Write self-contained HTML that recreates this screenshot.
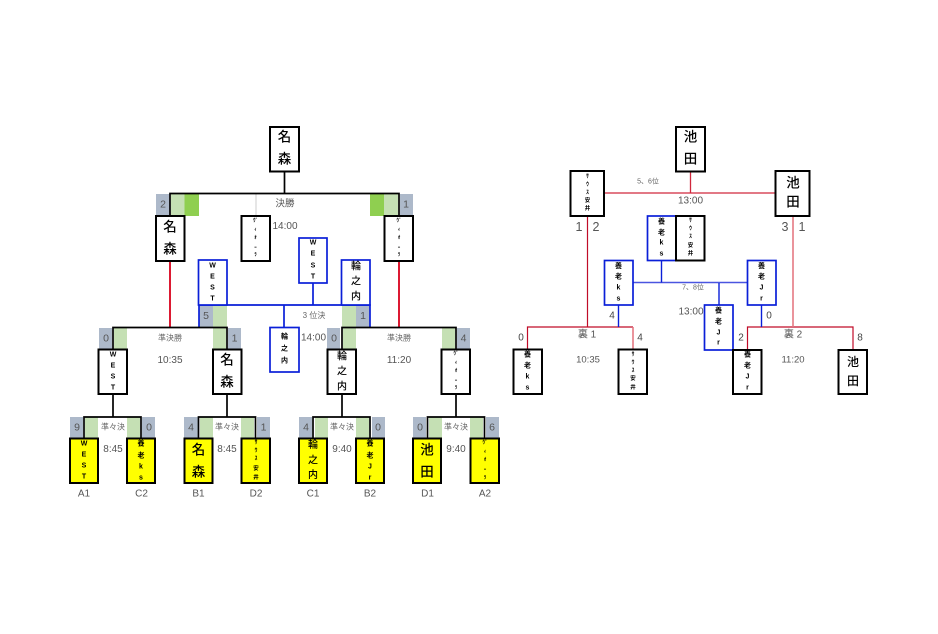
<!DOCTYPE html>
<html lang="ja"><head><meta charset="utf-8"><style>
html,body{margin:0;padding:0;background:#fff}
svg{display:block}
text{font-family:"Liberation Sans","Noto Sans CJK JP",sans-serif;text-anchor:middle;dominant-baseline:central;fill:#000}
.b{font-size:13.5px;font-weight:500}.m{font-size:10px;font-weight:500}.w{font-size:7px;font-weight:700}.k{font-size:5px;font-weight:700}.y{font-size:5.5px;font-weight:700}.s{font-size:7px;font-weight:700}
.n{font-size:10.5px;fill:#555}.t{font-size:10px;fill:#555}.l{font-size:8px;fill:#666}.o{font-size:10px;fill:#444}
.box{fill:#fff;stroke:#000;stroke-width:2}.yb{fill:#ff0;stroke:#000;stroke-width:2}.bb{fill:#fff;stroke:#0a1fd8;stroke-width:1.700}
.g{fill:#adb9ca}.lg{fill:#c5e0b4}.dg{fill:#8fcf50}
</style></head><body>
<svg width="938" height="634" viewBox="0 0 938 634" xmlns="http://www.w3.org/2000/svg">
<rect width="938" height="634" fill="#fff"/>
<!-- score blocks -->
<rect class="g" x="156" y="194" width="14" height="22"/><rect class="lg" x="171" y="194" width="13.500" height="22"/><rect class="dg" x="184.500" y="194" width="14.500" height="22"/>
<rect class="dg" x="370" y="194" width="14" height="22"/><rect class="lg" x="384" y="194" width="14" height="22"/><rect class="g" x="400" y="194" width="13" height="22"/>
<rect class="g" x="199" y="305" width="14" height="22"/><rect class="lg" x="213" y="305" width="14" height="22"/>
<rect class="lg" x="342" y="305" width="14" height="22"/><rect class="g" x="356" y="305" width="14" height="22"/>
<rect class="g" x="99" y="328" width="13" height="21"/><rect class="lg" x="114" y="328" width="13" height="21"/><rect class="lg" x="213" y="328" width="13" height="21"/><rect class="g" x="228" y="328" width="13" height="21"/>
<rect class="g" x="327" y="328" width="13" height="21"/><rect class="lg" x="343" y="328" width="13" height="21"/><rect class="lg" x="442" y="328" width="13" height="21"/><rect class="g" x="457" y="328" width="13" height="21"/>
<rect class="g" x="70" y="417" width="13" height="21"/><rect class="lg" x="85" y="417" width="13" height="21"/><rect class="lg" x="127" y="417" width="13" height="21"/><rect class="g" x="142" y="417" width="13" height="21"/>
<rect class="g" x="184" y="417" width="14" height="21"/><rect class="lg" x="200" y="417" width="13" height="21"/><rect class="lg" x="241" y="417" width="13" height="21"/><rect class="g" x="257" y="417" width="13" height="21"/>
<rect class="g" x="299" y="417" width="13" height="21"/><rect class="lg" x="315" y="417" width="13" height="21"/><rect class="lg" x="356" y="417" width="13" height="21"/><rect class="g" x="372" y="417" width="13" height="21"/>
<rect class="g" x="413" y="417" width="13" height="21"/><rect class="lg" x="429" y="417" width="13" height="21"/><rect class="lg" x="470" y="417" width="13" height="21"/><rect class="g" x="486" y="417" width="13" height="21"/>
<!-- left lines -->
<path d="M256 194V216" stroke="#ccc" stroke-width="1" fill="none"/>
<path d="M284.500 171V193.500M170 216V193.500H399V216" stroke="#000" stroke-width="1.700" fill="none"/>
<path d="M170 261V327M399 261V327" stroke="#d8001c" stroke-width="1.800" fill="none"/>
<path d="M199 327V305H370V327M313 283V305M284 305V327" stroke="#0a1fd8" stroke-width="1.700" fill="none"/>
<path d="M113 349V327.500H227V349M342 349V327.500H456V349M113 394V417M227 394V417M342 394V417M456 394V417M84 438V417H141V438M198.500 438V417H255.500V438M313 438V417H370V438M427.500 438V417H484.500V438" stroke="#000" stroke-width="1.700" fill="none"/>
<!-- right lines -->
<path d="M690.500 171V193M605 193H775" stroke="#d0283c" stroke-width="1.300" fill="none"/>
<path d="M587.500 216V327M527.500 349V327H633M747.500 350V327H853V350" stroke="#c00c28" stroke-width="1.200" fill="none"/>
<path d="M793 216V327M633 327V349" stroke="#e4707c" stroke-width="1.500" fill="none"/>
<path d="M633 282.500H747.500" stroke="#4a55e0" stroke-width="1.500" fill="none"/>
<path d="M661.500 260V282.500M719 283V305M618.500 305V327M761.500 305V327" stroke="#0a1fd8" stroke-width="1.400" fill="none"/>
<!-- boxes left -->
<rect class="box" x="270" y="127" width="29" height="44.500"/><text class="b" x="284.500" y="137">名</text><text class="b" x="284.500" y="159">森</text>
<rect class="box" x="156" y="216" width="28.500" height="45"/><text class="b" x="170" y="227">名</text><text class="b" x="170" y="249">森</text>
<rect class="box" x="241.500" y="216" width="28.500" height="45"/>
<text class="k" x="255.500" y="221">ｳﾞ</text><text class="k" x="255.500" y="230">ｨ</text><text class="k" x="255.500" y="238">ｵ</text><text class="k" x="255.500" y="248">ｰ</text><text class="k" x="255.500" y="255">ﾗ</text>
<rect class="box" x="384.500" y="216" width="28.500" height="45"/>
<text class="k" x="399" y="221">ｳﾞ</text><text class="k" x="399" y="230">ｨ</text><text class="k" x="399" y="238">ｵ</text><text class="k" x="399" y="248">ｰ</text><text class="k" x="399" y="255">ﾗ</text>
<rect class="bb" x="299" y="238" width="28" height="45"/><text class="w" x="313" y="243">W</text><text class="w" x="313" y="254">E</text><text class="w" x="313" y="266">S</text><text class="w" x="313" y="277">T</text>
<rect class="bb" x="198.500" y="260" width="28.500" height="45"/><text class="w" x="212.500" y="266">W</text><text class="w" x="212.500" y="277">E</text><text class="w" x="212.500" y="288">S</text><text class="w" x="212.500" y="299">T</text>
<rect class="bb" x="341.500" y="260" width="28.500" height="45"/><text class="m" x="356" y="267">輪</text><text class="m" x="356" y="282">之</text><text class="m" x="356" y="297">内</text>
<rect class="bb" x="270" y="327.500" width="29" height="44.500"/><text class="s" x="284.500" y="337">輪</text><text class="s" x="284.500" y="349">之</text><text class="s" x="284.500" y="361">内</text>
<rect class="box" x="98.500" y="349.500" width="28.500" height="44.500"/><text class="w" x="113" y="355">W</text><text class="w" x="113" y="366">E</text><text class="w" x="113" y="377">S</text><text class="w" x="113" y="388">T</text>
<rect class="box" x="213" y="349.500" width="28.500" height="44.500"/><text class="b" x="227" y="360">名</text><text class="b" x="227" y="382">森</text>
<rect class="box" x="327.500" y="349.500" width="28.500" height="44.500"/><text class="m" x="342" y="357">輪</text><text class="m" x="342" y="372">之</text><text class="m" x="342" y="387">内</text>
<rect class="box" x="441.500" y="349.500" width="28.500" height="44.500"/>
<text class="k" x="456" y="354">ｳﾞ</text><text class="k" x="456" y="363">ｨ</text><text class="k" x="456" y="371">ｵ</text><text class="k" x="456" y="381">ｰ</text><text class="k" x="456" y="388">ﾗ</text>
<!-- yellow -->
<rect class="yb" x="70" y="438.500" width="28" height="44.500"/><text class="w" x="84" y="444">W</text><text class="w" x="84" y="455">E</text><text class="w" x="84" y="466">S</text><text class="w" x="84" y="477">T</text>
<rect class="yb" x="127" y="438.500" width="28" height="44.500"/><text class="s" x="141" y="444">養</text><text class="s" x="141" y="456">老</text><text class="s" x="141" y="467">k</text><text class="s" x="141" y="478">s</text>
<rect class="yb" x="184.500" y="438.500" width="28" height="44.500"/><text class="b" x="198.500" y="450">名</text><text class="b" x="198.500" y="472">森</text>
<rect class="yb" x="241.500" y="438.500" width="28.500" height="44.500"/><text class="y" x="256" y="443">ｻ</text><text class="y" x="256" y="451">ｳ</text><text class="y" x="256" y="459">ｽ</text><text class="y" x="256" y="469">安</text><text class="y" x="256" y="478">井</text>
<rect class="yb" x="299" y="438.500" width="28" height="44.500"/><text class="m" x="313" y="445.500">輪</text><text class="m" x="313" y="461">之</text><text class="m" x="313" y="475.500">内</text>
<rect class="yb" x="356" y="438.500" width="28" height="44.500"/><text class="s" x="370" y="444">養</text><text class="s" x="370" y="456">老</text><text class="s" x="370" y="467">J</text><text class="s" x="370" y="478">r</text>
<rect class="yb" x="413" y="438.500" width="28" height="44.500"/><text class="b" x="427" y="450">池</text><text class="b" x="427" y="472">田</text>
<rect class="yb" x="470.500" y="438.500" width="28.500" height="44.500"/>
<text class="k" x="485" y="443">ｳﾞ</text><text class="k" x="485" y="452">ｨ</text><text class="k" x="485" y="460">ｵ</text><text class="k" x="485" y="470">ｰ</text><text class="k" x="485" y="478">ﾗ</text>
<!-- scores left -->
<text class="n" x="163" y="204.500">2</text><text class="n" x="406" y="204.500">1</text>
<text class="n" x="206" y="316">5</text><text class="n" x="363" y="316">1</text>
<text class="n" x="106" y="338.500">0</text><text class="n" x="234.500" y="338.500">1</text><text class="n" x="334" y="338.500">0</text><text class="n" x="463.500" y="338.500">4</text>
<text class="n" x="77" y="427.500">9</text><text class="n" x="149" y="427.500">0</text><text class="n" x="191" y="427.500">4</text><text class="n" x="263.500" y="427.500">1</text>
<text class="n" x="306" y="427.500">4</text><text class="n" x="378" y="427.500">0</text><text class="n" x="420" y="427.500">0</text><text class="n" x="492" y="427.500">6</text>
<!-- labels left -->
<text class="t" x="285" y="204" style="font-size:9.500px">決勝</text><text class="t" x="285" y="226.500">14:00</text>
<text class="l" x="314" y="315.500">3 位決</text><text class="t" x="313.500" y="338">14:00</text>
<text class="l" x="170" y="338">準決勝</text><text class="t" x="170" y="360.500">10:35</text>
<text class="l" x="399" y="338">準決勝</text><text class="t" x="399" y="360.500">11:20</text>
<text class="l" x="113" y="427">準々決</text><text class="t" x="113" y="449.500">8:45</text>
<text class="l" x="227" y="427">準々決</text><text class="t" x="227" y="449.500">8:45</text>
<text class="l" x="342" y="427">準々決</text><text class="t" x="342" y="449.500">9:40</text>
<text class="l" x="456" y="427">準々決</text><text class="t" x="456" y="449.500">9:40</text>
<text class="t" x="84" y="494">A1</text><text class="t" x="141.500" y="494">C2</text><text class="t" x="198.500" y="494">B1</text><text class="t" x="256" y="494">D2</text>
<text class="t" x="313" y="494">C1</text><text class="t" x="370" y="494">B2</text><text class="t" x="427.500" y="494">D1</text><text class="t" x="485" y="494">A2</text>
<!-- boxes right -->
<rect class="box" x="676" y="127" width="29" height="44.500"/><text class="b" x="690.500" y="137">池</text><text class="b" x="690.500" y="159">田</text>
<rect class="box" x="570.500" y="171" width="33.500" height="45"/><text class="y" x="587.500" y="177">ｻ</text><text class="y" x="587.500" y="185">ｳ</text><text class="y" x="587.500" y="193">ｽ</text><text class="y" x="587.500" y="201">安</text><text class="y" x="587.500" y="209">井</text>
<rect class="box" x="775.500" y="171" width="34" height="45"/><text class="b" x="793" y="183">池</text><text class="b" x="793" y="202">田</text>
<rect class="bb" x="647.500" y="216" width="28.500" height="44.500"/><text class="s" x="661.500" y="222">養</text><text class="s" x="661.500" y="233">老</text><text class="s" x="661.500" y="243">k</text><text class="s" x="661.500" y="254">s</text>
<rect class="box" x="676" y="216" width="28.500" height="44.500"/><text class="y" x="690.500" y="221">ｻ</text><text class="y" x="690.500" y="229">ｳ</text><text class="y" x="690.500" y="237">ｽ</text><text class="y" x="690.500" y="246">安</text><text class="y" x="690.500" y="254">井</text>
<rect class="bb" x="604.500" y="260.500" width="28.500" height="44.500"/><text class="s" x="618.500" y="266.500">養</text><text class="s" x="618.500" y="277">老</text><text class="s" x="618.500" y="288">k</text><text class="s" x="618.500" y="299">s</text>
<rect class="bb" x="747.500" y="260.500" width="28.500" height="44.500"/><text class="s" x="761.500" y="266.500">養</text><text class="s" x="761.500" y="277">老</text><text class="s" x="761.500" y="288">J</text><text class="s" x="761.500" y="299">r</text>
<rect class="bb" x="704.500" y="305" width="28.500" height="45"/><text class="s" x="718.500" y="311">養</text><text class="s" x="718.500" y="322">老</text><text class="s" x="718.500" y="333">J</text><text class="s" x="718.500" y="343">r</text>
<rect class="box" x="513.500" y="349.500" width="28.500" height="44.500"/><text class="s" x="527.500" y="355">養</text><text class="s" x="527.500" y="366">老</text><text class="s" x="527.500" y="377">k</text><text class="s" x="527.500" y="388">s</text>
<rect class="box" x="618.500" y="349.500" width="28.500" height="44.500"/><text class="y" x="633" y="355">ｻ</text><text class="y" x="633" y="363">ｳ</text><text class="y" x="633" y="371">ｽ</text><text class="y" x="633" y="379">安</text><text class="y" x="633" y="388">井</text>
<rect class="box" x="733" y="350" width="28.500" height="44"/><text class="s" x="747.500" y="355">養</text><text class="s" x="747.500" y="366">老</text><text class="s" x="747.500" y="377">J</text><text class="s" x="747.500" y="388">r</text>
<rect class="box" x="838.500" y="350" width="28.500" height="44"/><text class="m" style="font-size:12px" x="853" y="362">池</text><text class="m" style="font-size:12px" x="853" y="381">田</text>
<!-- labels right -->
<text class="l" x="648" y="182" style="font-size:7px">5、6位</text><text class="t" x="690.500" y="201">13:00</text>
<text class="n" x="579" y="227" style="font-size:12.500px">1</text><text class="n" x="596" y="227" style="font-size:12.500px">2</text>
<text class="n" x="785" y="227" style="font-size:12.500px">3</text><text class="n" x="802" y="227" style="font-size:12.500px">1</text>
<text class="l" x="693" y="288" style="font-size:7px">7、8位</text><text class="t" x="691" y="312">13:00</text>
<text class="o" x="521" y="338">0</text><text class="o" x="640" y="338">4</text><text class="o" x="612" y="316">4</text>
<text class="o" x="769" y="316">0</text><text class="o" x="741" y="338">2</text><text class="o" x="860" y="338">8</text>
<text class="t" x="587" y="335">裏 1</text><text class="t" x="793" y="335">裏 2</text>
<text class="t" x="588" y="360" style="font-size:9.500px">10:35</text><text class="t" x="793" y="360" style="font-size:9.500px">11:20</text>
</svg>
</body></html>
